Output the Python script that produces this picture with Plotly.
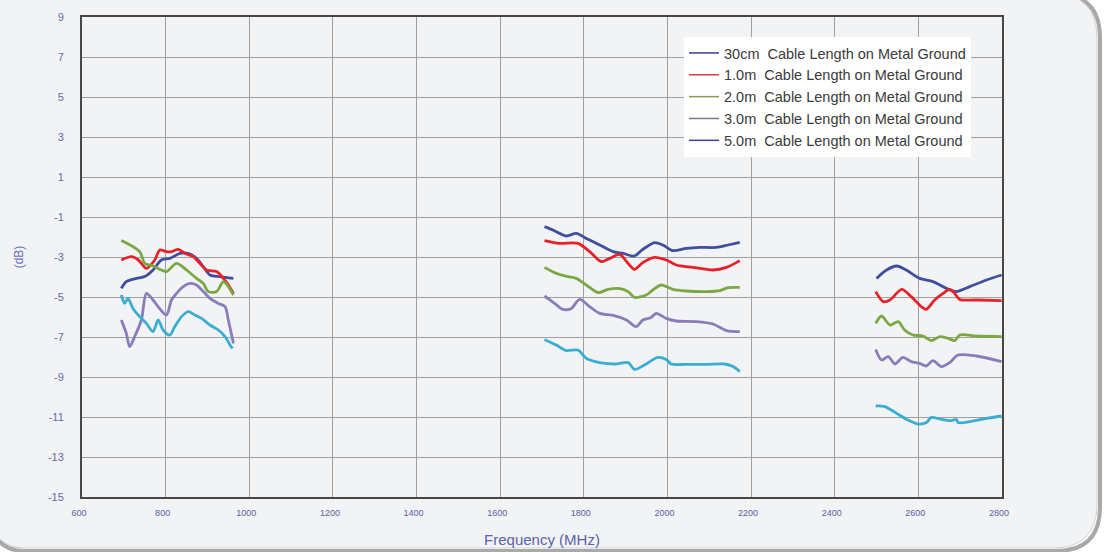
import plotly.graph_objects as go

# ---------------- data ----------------
freq_30cm = [694, 706, 730, 750, 770, 790, 810, 834, 854, 874, 890, 906, 930, 962, None,
             1706, 1726, 1758, 1782, 1806, 1838, 1870, 1894, 1921, 1941, 1969, 1989, 2013, 2045, 2077, 2117, 2145, 2173, None,
             2500, 2524, 2548, 2571, 2603, 2635, 2667, 2691, 2723, 2763, 2799]
db_30cm = [-4.57, -4.23, -4.07, -3.98, -3.65, -3.15, -3.07, -2.82, -2.82, -3.07, -3.48, -3.9, -3.98, -4.07, None,
           -1.48, -1.65, -1.95, -1.82, -2.07, -2.4, -2.73, -2.82, -2.95, -2.62, -2.28, -2.4, -2.68, -2.57, -2.52, -2.52, -2.4, -2.27, None,
           -4.07, -3.65, -3.45, -3.65, -4.07, -4.23, -4.57, -4.73, -4.48, -4.15, -3.9]

freq_1m = [694, 718, 735, 754, 774, 786, 802, 815, 830, 846, 866, 882, 898, 922, 938, 950, 962, None,
           1706, 1742, 1786, 1814, 1842, 1862, 1886, 1906, 1921, 1941, 1969, 1997, 2021, 2061, 2109, 2141, 2173, None,
           2498, 2516, 2532, 2560, 2583, 2607, 2619, 2639, 2659, 2675, 2687, 2699, 2739, 2799]
db_1m = [-3.15, -2.98, -3.15, -3.57, -3.15, -2.65, -2.73, -2.73, -2.62, -2.82, -2.98, -3.32, -3.65, -3.73, -4.07, -4.4, -4.82, None,
         -2.18, -2.32, -2.32, -2.73, -3.23, -3.07, -2.87, -3.32, -3.62, -3.28, -3.02, -3.15, -3.4, -3.52, -3.65, -3.52, -3.18, None,
         -4.73, -5.23, -5.15, -4.62, -4.98, -5.48, -5.62, -5.15, -4.82, -4.62, -4.82, -5.12, -5.15, -5.18]

freq_2m = [694, 738, 750, 770, 790, 802, 826, 850, 874, 890, 902, 922, 938, 950, 962, None,
           1706, 1734, 1762, 1782, 1806, 1834, 1858, 1886, 1906, 1921, 1949, 1965, 1985, 2013, 2045, 2093, 2125, 2145, 2173, None,
           2498, 2512, 2532, 2552, 2567, 2587, 2611, 2631, 2651, 2671, 2687, 2699, 2739, 2799]
db_2m = [-2.18, -2.73, -3.32, -3.45, -3.65, -3.73, -3.32, -3.65, -4.07, -4.32, -4.73, -4.73, -4.23, -4.48, -4.9, None,
         -3.52, -3.82, -3.98, -4.07, -4.4, -4.78, -4.62, -4.58, -4.73, -5.02, -4.9, -4.65, -4.4, -4.62, -4.7, -4.73, -4.68, -4.53, -4.52, None,
         -6.32, -5.95, -6.4, -6.23, -6.65, -6.9, -6.95, -7.18, -6.98, -7.07, -7.18, -6.9, -6.95, -6.98]

freq_3m = [694, 706, 714, 726, 742, 754, 770, 782, 802, 814, 826, 842, 858, 874, 890, 906, 926, 942, 950, 962, None,
           1706, 1730, 1750, 1770, 1790, 1814, 1838, 1870, 1902, 1925, 1941, 1961, 1973, 1997, 2021, 2069, 2109, 2141, 2173, None,
           2498, 2512, 2528, 2544, 2563, 2583, 2603, 2619, 2635, 2655, 2675, 2695, 2739, 2799]
db_3m = [-6.15, -6.82, -7.48, -6.98, -6.15, -4.82, -5.15, -5.48, -5.9, -5.15, -4.82, -4.48, -4.32, -4.4, -4.73, -5.07, -5.32, -5.48, -6.15, -7.32, None,
         -4.95, -5.32, -5.62, -5.57, -5.12, -5.48, -5.82, -5.92, -6.15, -6.48, -6.15, -6.02, -5.82, -6.07, -6.2, -6.23, -6.35, -6.68, -6.73, None,
         -7.62, -8.15, -7.98, -8.35, -8.02, -8.23, -8.32, -8.45, -8.18, -8.48, -8.28, -7.9, -7.95, -8.23]

freq_5m = [694, 702, 710, 722, 738, 754, 770, 782, 794, 810, 822, 838, 854, 870, 886, 906, 926, 942, 954, 960, None,
           1706, 1734, 1758, 1786, 1806, 1838, 1878, 1906, 1921, 1945, 1977, 1997, 2009, 2045, 2093, 2137, 2157, 2173, None,
           2498, 2520, 2548, 2575, 2599, 2619, 2631, 2655, 2679, 2691, 2695, 2723, 2763, 2799]
db_5m = [-4.9, -5.32, -5.07, -5.57, -5.98, -6.32, -6.73, -6.15, -6.65, -6.9, -6.48, -5.98, -5.73, -5.9, -6.07, -6.4, -6.65, -6.98, -7.4, -7.57, None,
         -7.12, -7.4, -7.68, -7.65, -8.07, -8.28, -8.35, -8.28, -8.62, -8.4, -8.02, -8.12, -8.35, -8.37, -8.37, -8.35, -8.48, -8.73, None,
         -10.45, -10.48, -10.82, -11.15, -11.35, -11.28, -11.02, -11.12, -11.18, -11.12, -11.28, -11.23, -11.07, -10.95]

series_names = ["30cm  Cable Length on Metal Ground", "1.0m  Cable Length on Metal Ground",
                "2.0m  Cable Length on Metal Ground", "3.0m  Cable Length on Metal Ground",
                "5.0m  Cable Length on Metal Ground"]
series_colors = ["#3f4f9c", "#e8202a", "#7aa843", "#8a7bb9", "#3aaed2"]
legend_colors = ["#3a3f8f", "#d2424a", "#8a9a50", "#7a7a8a", "#3e4290"]
x_ticks = [600, 800, 1000, 1200, 1400, 1600, 1800, 2000, 2200, 2400, 2600, 2800]
y_ticks = [9, 7, 5, 3, 1, -1, -3, -5, -7, -9, -11, -13, -15]

# ---------------- figure ----------------
W, H = 1105, 552
ML, MR, MT, MB = 82, 103, 17, 55
PW, PH = W - ML - MR, H - MT - MB

def px(x):
    return (x - ML) / PW

def py(y):
    return (H - MB - y) / PH

def rounded_path(x0, y0, x1, y1, r_tr, r_br, r_bl):
    pts = [
        f"M {px(x0)},{py(y0)}",
        f"L {px(x1 - r_tr)},{py(y0)}",
        f"Q {px(x1)},{py(y0)} {px(x1)},{py(y0 + r_tr)}",
        f"L {px(x1)},{py(y1 - r_br)}",
        f"Q {px(x1)},{py(y1)} {px(x1 - r_br)},{py(y1)}",
        f"L {px(x0 + r_bl)},{py(y1)}",
        f"Q {px(x0)},{py(y1)} {px(x0)},{py(y1 - r_bl)}",
        "Z",
    ]
    return " ".join(pts)

fig = go.Figure()
all_x = [freq_30cm, freq_1m, freq_2m, freq_3m, freq_5m]
all_y = [db_30cm, db_1m, db_2m, db_3m, db_5m]
for i, (name, color, xs, ys) in enumerate(zip(series_names, series_colors, all_x, all_y)):
    fig.add_trace(go.Scatter(x=xs, y=ys, name=name, mode="lines", legendgroup=f"g{i}",
                             showlegend=False,
                             line=dict(color=color, width=2.8, shape="spline", smoothing=0.8),
                             connectgaps=False))
# legend entries (thin markers as in the reference legend)
for i, (name, lcolor) in enumerate(zip(series_names, legend_colors)):
    fig.add_trace(go.Scatter(x=[None], y=[None], name=name, mode="lines", legendgroup=f"g{i}",
                             line=dict(color=lcolor, width=1.5)))

shapes = [
    # shadow
    dict(type="path", xref="paper", yref="paper", layer="below",
         path=rounded_path(-8, -6, 1100, 551, 44, 44, 34),
         fillcolor="rgba(0,0,0,0)", line=dict(color="#a9a9a9", width=4)),
    # panel
    dict(type="path", xref="paper", yref="paper", layer="below",
         path=rounded_path(-8, -6, 1097, 548, 44, 44, 34),
         fillcolor="#f2f3f5", line=dict(color="#d2d2d2", width=1)),
]

fig.update_layout(
    width=W, height=H,
    margin=dict(l=ML, r=MR, t=MT, b=MB, pad=0),
    paper_bgcolor="#ffffff",
    plot_bgcolor="#fafbfc",
    shapes=shapes,
    showlegend=True,
    legend=dict(x=px(684), y=py(37), xanchor="left", yanchor="top",
                bgcolor="#ffffff", borderwidth=0,
                font=dict(family="Liberation Sans, Arial", size=14.5, color="#3a3a3a"),
                tracegroupgap=0, itemwidth=30),
    font=dict(family="Liberation Sans, Arial"),
)

fig.update_xaxes(range=[600, 2800], tickmode="array", tickvals=x_ticks,
                 ticktext=[str(t) for t in x_ticks], automargin=False,
                 showgrid=True, gridcolor="#a0a0a0", gridwidth=1,
                 showline=True, mirror=True, linecolor="#474747", linewidth=2,
                 zeroline=False, ticks="", ticklabelshift=-3, ticklabelstandoff=6,
                 tickfont=dict(size=9, color="#5a60a2", family="Liberation Sans Narrow, Liberation Sans, Arial"),
                 title=dict(text="Frequency (MHz)", font=dict(size=15, color="#5a62a8"), standoff=18))
fig.update_yaxes(range=[-15, 9], tickmode="array", tickvals=y_ticks,
                 ticktext=[str(t) for t in y_ticks], automargin=False,
                 showgrid=True, gridcolor="#a0a0a0", gridwidth=1,
                 showline=True, mirror=True, linecolor="#474747", linewidth=2,
                 zeroline=False, ticks="", ticklabelstandoff=14,
                 tickfont=dict(size=11, color="#666a9e"),
                 title=dict(text="(dB)", font=dict(size=12, color="#6a70b8"), standoff=22))

fig.write_html("out.html", config={"displayModeBar": False},
               post_script="document.body.style.margin='0';document.body.style.overflow='hidden';")
